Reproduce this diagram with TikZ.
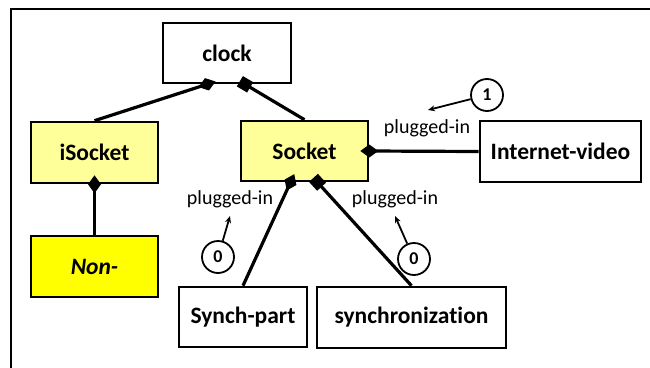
\documentclass[tikz,border=0pt]{standalone}
\usepackage{fontspec}
\setmainfont[Ligatures=NoCommon]{Carlito}
\usetikzlibrary{arrows.meta}
\definecolor{paleyellow}{HTML}{FFFF99}
\definecolor{brightyellow}{HTML}{FFFF00}
\begin{document}
\begin{tikzpicture}[x=1pt,y=-1pt,
  box/.style={draw=black, line width=2.6pt, inner sep=0pt, fill=white,
    font=\fontsize{23.5}{26}\selectfont\bfseries},
  circ/.style={draw=black, circle, line width=1.8pt, minimum size=32pt, inner sep=0pt,
    font=\fontsize{18}{20}\selectfont\bfseries},
  lbl/.style={font=\fontsize{20}{22}\selectfont, inner sep=1pt},
  conn/.style={line width=3.2pt},
  note/.style={line width=1.8pt, -{Stealth[length=7pt,width=6pt]}}
]
\useasboundingbox (0,0) rectangle (650,367);
\draw[line width=2.4pt] (11,380) -- (11,9) -- (660,9);

\node[box, minimum width=128pt, minimum height=60pt] (clock) at (227,53) {clock};
\node[box, fill=paleyellow, minimum width=127pt, minimum height=61pt] (isock) at (94.5,152.5) {iSocket};
\node[box, fill=paleyellow, minimum width=127pt, minimum height=60pt] (sock) at (304.5,151) {Socket};
\node[box, minimum width=161pt, minimum height=61pt] (inet) at (560.5,151.5) {Internet-video};
\node[box, fill=brightyellow, minimum width=127pt, minimum height=61pt,
  font=\fontsize{23.5}{26}\selectfont\bfseries\itshape] (non) at (94.5,266.5) {Non-};
\node[box, minimum width=128pt, minimum height=60pt] (synp) at (243,317) {Synch-part};
\node[box, minimum width=189pt, minimum height=61pt] (sync) at (411.5,317.5) {synchronization};

% connectors
\draw[conn, -{Diamond[length=18pt,width=13pt]}, shorten >=-9pt] (isock.north) -- ([xshift=-20pt]clock.south);
\draw[conn, -{Square[length=12pt,width=12pt]}, shorten >=-6pt] (sock.north) -- ([xshift=18pt]clock.south);
\draw[conn, {Diamond[length=18pt,width=13pt]}-, shorten <=-9pt] (isock.south) -- (non.north);
\draw[conn, {Diamond[length=18pt,width=13pt]}-, shorten <=-9pt] (sock.east) -- (inet.west);
\draw[conn, {Diamond[length=18pt,width=13pt]}-, shorten <=-9pt] ([xshift=-14pt]sock.south) -- (synp.north);
\draw[conn, {Square[length=12pt,width=12pt]}-, shorten <=-6pt] ([xshift=13pt]sock.south) -- (sync.north);

% labels
\node[lbl] (pl1) at (427,128) {plugged-in};
\node[lbl] (pl0a) at (230,199) {plugged-in};
\node[lbl] (pl0b) at (395,199) {plugged-in};

\node[circ] (c1) at (487,95) {1};
\node[circ] (c0a) at (218,257) {0};
\node[circ] (c0b) at (414,259) {0};

\coordinate (a1) at (428,110);
\coordinate (a0a) at (230,216);
\coordinate (a0b) at (395,216);
\draw[note] (c1) -- (a1);
\draw[note] (c0a) -- (a0a);
\draw[note] (c0b) -- (a0b);
\end{tikzpicture}
\end{document}
